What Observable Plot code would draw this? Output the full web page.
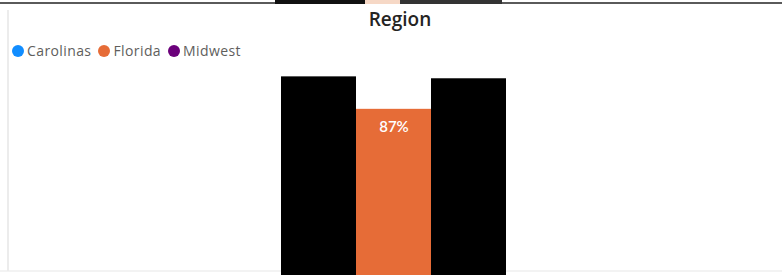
<!DOCTYPE html>
<html>
<head>
<meta charset="utf-8">
<script src="https://cdn.jsdelivr.net/npm/d3@7"></script>
<script src="https://cdn.jsdelivr.net/npm/@observablehq/plot@0.6"></script>
<style>
  html, body { margin: 0; padding: 0; background: #fff; width: 782px; height: 275px; overflow: hidden; }
  #wrap { position: relative; width: 782px; height: 275px; }
  #chart { position: absolute; left: 0; top: 0; }
  .topline { position: absolute; left: 0; top: 2px; width: 782px; height: 2px; background: #5a5a5a; }
  .topblack { position: absolute; top: 0; height: 4px; background: #111; }
  .leftline { position: absolute; left: 7px; top: 10px; width: 2px; height: 261px; background: #ececec; }
  .botline { position: absolute; left: 0; top: 270px; width: 782px; height: 2px; background: #f3f3f3; }
  #title { position: absolute; left: 300px; width: 200px; top: 6px; text-align: center; font-family: "Open Sans", sans-serif; font-weight: 600; font-size: 19px; color: #252423; }
  #legend { position: absolute; left: 12px; top: 41px; font-family: "Open Sans", sans-serif; font-size: 14px; letter-spacing: 0.4px; color: #605e5c; display: flex; gap: 7px; align-items: center; }
  .item { display: flex; align-items: center; gap: 3px; }
  .dot { width: 12px; height: 12px; border-radius: 50%; display: inline-block; }
</style>
</head>
<body>
<div id="wrap">
  <div class="botline"></div>
  <div class="leftline"></div>
  <div id="chart"></div>
  <div class="topline"></div>
  <div class="topblack" style="left:275px;width:90px;"></div>
  <div class="topblack" style="left:365px;width:35px;background:#f6d8c6;"></div>
  <div class="topblack" style="left:400px;width:102px;background:#333;"></div>
  <div id="title">Region</div>
  <div id="legend"></div>
</div>
<script>
const regions = ["Carolinas", "Florida", "Midwest"];
const values = [104, 87, 103];
const labels = ["", "87%", ""];
const legendColors = ["#118dff", "#e66c37", "#6b007b"];
const barColors = ["#000000", "#e66c37", "#000000"];

const data = regions.map((r, i) => ({region: r, value: values[i], label: labels[i], fill: barColors[i]}));

const legend = document.getElementById("legend");
regions.forEach((r, i) => {
  const it = document.createElement("span");
  it.className = "item";
  const d = document.createElement("span");
  d.className = "dot";
  d.style.background = legendColors[i];
  const t = document.createElement("span");
  t.textContent = r;
  it.appendChild(d); it.appendChild(t);
  legend.appendChild(it);
});

const chart = Plot.plot({
  width: 782,
  height: 275,
  marginTop: 0, marginBottom: 0, marginLeft: 280, marginRight: 275,
  x: {type: "band", domain: regions, padding: 0, axis: null},
  y: {domain: [0, 100], range: [275, 84], axis: null},
  marks: [
    Plot.barY(data, {x: "region", y: "value", fill: d => d.fill}),
    Plot.text(data, {x: "region", y: "value", text: "label", dy: 18, fill: "white", fontSize: 15, fontWeight: "600", fontFamily: "Lato, sans-serif"})
  ],
  style: {background: "transparent"}
});
document.getElementById("chart").appendChild(chart);
</script>
</body>
</html>
